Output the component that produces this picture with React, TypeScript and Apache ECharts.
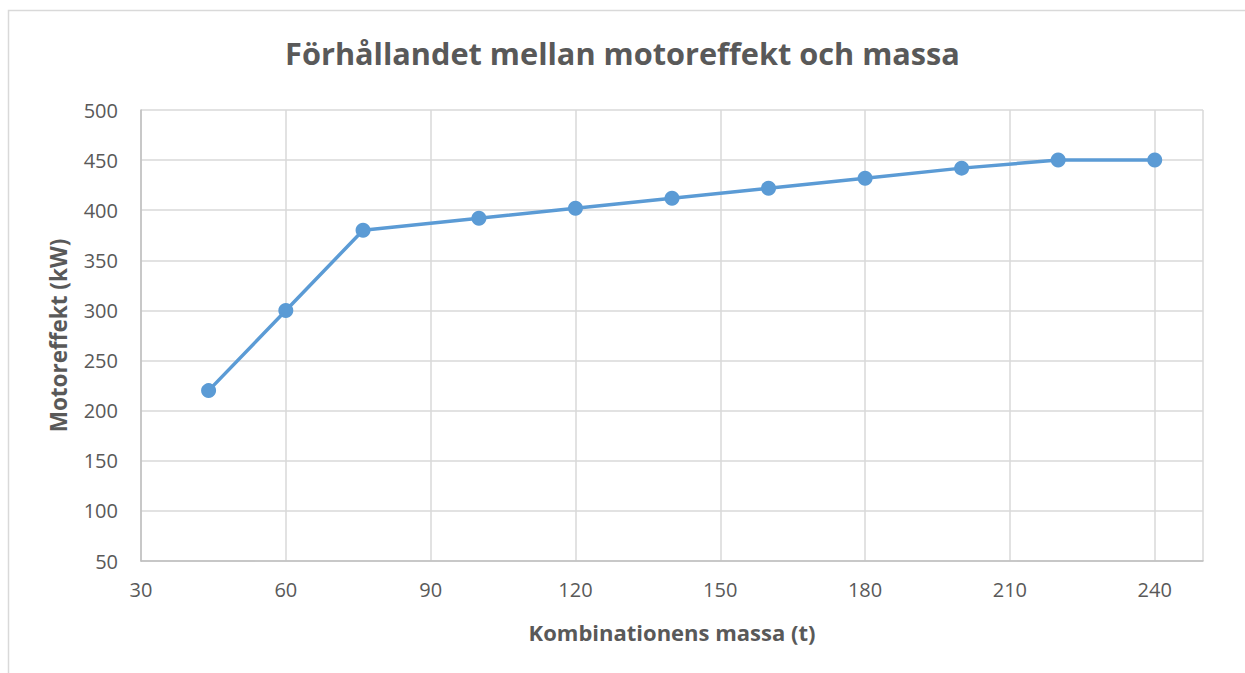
import React, { useEffect, useRef } from "react";
import * as echarts from "echarts";

const massValues = [44, 60, 76, 100, 120, 140, 160, 180, 200, 220, 240];
const powerValues = [220, 300, 380, 392, 402, 412, 422, 432, 442, 450, 450];
const titleText = "Förhållandet mellan motoreffekt och massa";
const xAxisName = "Kombinationens massa (t)";
const yAxisName = "Motoreffekt (kW)";

export default function App() {
  const ref = useRef<HTMLDivElement>(null);
  useEffect(() => {
    if (!ref.current) return;
    const chart = echarts.init(ref.current, undefined, { renderer: "svg" });
    const font = "'Open Sans', 'Noto Sans', sans-serif";
    chart.setOption({
      animation: false,
      backgroundColor: "#ffffff",
      textStyle: { fontFamily: font },
      title: {
        text: titleText,
        left: "center",
        top: 32,
        textStyle: { fontSize: 30.7, fontWeight: "bold", color: "#595959", fontFamily: font },
      },
      graphic: [
        {
          type: "rect",
          shape: { x: 8.5, y: 10.5, width: 1260, height: 700 },
          style: { fill: "none", stroke: "#d9d9d9", lineWidth: 1.5 },
          silent: true,
        },
      ],
      grid: { left: 141, top: 110, width: 1062, height: 451, containLabel: false },
      xAxis: {
        type: "value",
        min: 30,
        max: 250,
        interval: 30,
        name: xAxisName,
        nameLocation: "middle",
        nameGap: 60,
        nameTextStyle: { fontSize: 22, fontWeight: "bold", color: "#595959", fontFamily: font },
        axisLine: { show: true, lineStyle: { color: "#bfbfbf", width: 1.5 } },
        axisTick: { show: false },
        axisLabel: {
          fontSize: 20,
          color: "#595959",
          margin: 18,
          formatter: (v: number) => (v > 240 ? "" : String(v)),
        },
        splitLine: { show: true, lineStyle: { color: "#d9d9d9", width: 1.5 } },
      },
      yAxis: {
        type: "value",
        min: 50,
        max: 500,
        interval: 50,
        name: yAxisName,
        nameLocation: "middle",
        nameGap: 71,
        nameTextStyle: { fontSize: 22.5, fontWeight: "bold", color: "#595959", fontFamily: font },
        axisLine: { show: true, lineStyle: { color: "#bfbfbf", width: 1.5 } },
        axisTick: { show: false },
        axisLabel: { fontSize: 20, color: "#595959", margin: 23 },
        splitLine: { show: true, lineStyle: { color: "#d9d9d9", width: 1.5 } },
      },
      series: [
        {
          type: "line",
          data: massValues.map((m, i) => [m, powerValues[i]]),
          symbol: "circle",
          symbolSize: 15,
          lineStyle: { color: "#5b9bd5", width: 3.5 },
          itemStyle: { color: "#5b9bd5" },
          z: 5,
        },
      ],
    });
    return () => chart.dispose();
  }, []);
  return (
    <div
      ref={ref}
      style={{ position: "absolute", left: 0, top: 0, width: 1245, height: 673 }}
    />
  );
}
